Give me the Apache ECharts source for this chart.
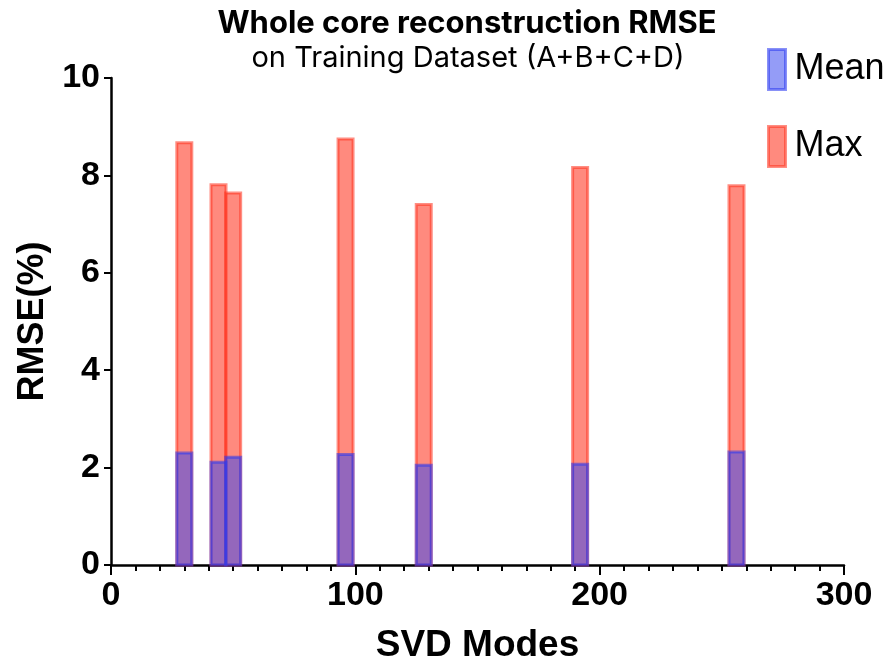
<!DOCTYPE html>
<html>
<head>
<meta charset="utf-8">
<script src="https://cdn.jsdelivr.net/npm/echarts@6/dist/echarts.min.js"></script>
<style>
  html, body { margin: 0; padding: 0; background: #fff; }
  #chart { width: 891px; height: 669px; }
</style>
</head>
<body>
<div id="chart"></div>
<script>
// SVD modes on the x axis
const modes = [30, 44, 50, 96, 128, 192, 256];
// RMSE values (%)
const maxRmse = [8.67, 7.81, 7.64, 8.75, 7.40, 8.16, 7.79];
const meanRmse = [2.30, 2.11, 2.21, 2.27, 2.05, 2.07, 2.32];
const xTicks = [0, 100, 200, 300];
const yTicks = [0, 2, 4, 6, 8, 10];

const chart = echarts.init(document.getElementById('chart'));

const axisFont = {
  fontFamily: 'Liberation Sans, Arial, sans-serif',
  fontWeight: 'bold',
  color: '#000'
};

const redStyle = { color: 'rgba(255,60,40,0.6)', borderColor: 'rgba(255,50,30,0.55)', borderWidth: 3 };
const blueStyle = { color: 'rgba(60,75,240,0.55)', borderColor: 'rgba(40,55,240,0.55)', borderWidth: 3 };

// bars drawn from the axis scale, fixed 15px wide (value axes squeeze normal bars)
function renderBar(params, api) {
  const top = api.coord([api.value(0), api.value(1)]);
  const base = api.coord([api.value(0), 0]);
  const w = 15;
  return {
    type: 'rect',
    shape: { x: top[0] - w / 2, y: top[1], width: w, height: base[1] - top[1] },
    style: api.style()
  };
}

const option = {
  animation: false,
  graphic: [
    {
      type: 'text', x: 467, y: 24,
      style: { text: 'Whole core reconstruction RMSE', fontFamily: 'Inter', fontWeight: 'bold', fontSize: 31, fill: '#000', align: 'center', verticalAlign: 'middle' }
    },
    {
      type: 'text', x: 468, y: 58,
      style: { text: 'on Training Dataset (A+B+C+D)', fontFamily: 'Inter', fontSize: 29, fill: '#000', align: 'center', verticalAlign: 'middle' }
    }
  ],
  legend: {
    orient: 'vertical',
    left: 762,
    top: 43,
    itemWidth: 17,
    itemHeight: 40,
    itemGap: 34,
    icon: 'rect',
    data: [
      { name: 'Mean', itemStyle: blueStyle },
      { name: 'Max', itemStyle: redStyle }
    ],
    textStyle: { fontFamily: 'Liberation Sans, Arial, sans-serif', fontSize: 36, color: '#000', padding: [0, 0, 0, 4] }
  },
  grid: { left: 111, right: 47, top: 78, bottom: 104 },
  xAxis: {
    type: 'value',
    min: xTicks[0],
    max: xTicks[xTicks.length - 1],
    interval: 100,
    name: 'SVD Modes',
    nameLocation: 'middle',
    nameGap: 62,
    nameTextStyle: Object.assign({ fontSize: 37 }, axisFont),
    axisLine: { show: true, onZero: false, lineStyle: { color: '#000', width: 2.5 } },
    axisTick: { show: true, length: 10, lineStyle: { color: '#000', width: 2 } },
    minorTick: { show: true, splitNumber: 10, length: 6, lineStyle: { color: '#000', width: 2 } },
    splitLine: { show: false },
    axisLabel: Object.assign({ fontSize: 34, margin: 14 }, axisFont)
  },
  yAxis: {
    type: 'value',
    min: yTicks[0],
    max: yTicks[yTicks.length - 1],
    interval: 2,
    name: 'RMSE(%)',
    nameLocation: 'middle',
    nameGap: 60,
    nameTextStyle: Object.assign({ fontSize: 36 }, axisFont),
    axisLine: { show: true, lineStyle: { color: '#000', width: 2.5 } },
    axisTick: { show: true, length: 7, lineStyle: { color: '#000', width: 2 } },
    splitLine: { show: false },
    axisLabel: Object.assign({ fontSize: 34, margin: 11 }, axisFont)
  },
  series: [
    {
      name: 'Max',
      type: 'custom',
      renderItem: renderBar,
      encode: { x: 0, y: 1 },
      data: modes.map((m, i) => [m, maxRmse[i]]),
      itemStyle: redStyle,
      z: 1
    },
    {
      name: 'Mean',
      type: 'custom',
      renderItem: renderBar,
      encode: { x: 0, y: 1 },
      data: modes.map((m, i) => [m, meanRmse[i]]),
      itemStyle: blueStyle,
      z: 2
    }
  ]
};

chart.setOption(option);
</script>
</body>
</html>
